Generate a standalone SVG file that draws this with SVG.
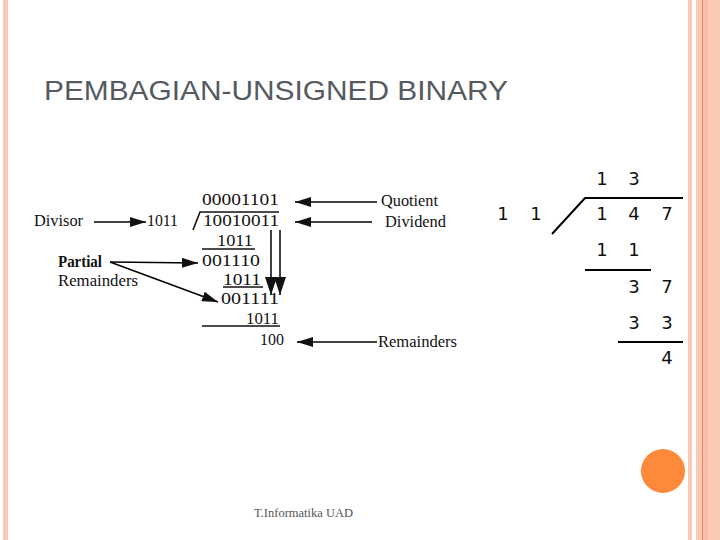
<svg xmlns="http://www.w3.org/2000/svg" width="720" height="540" viewBox="0 0 720 540">
<defs>
<style>
.scan{font-family:"Liberation Serif","Times New Roman",serif;font-size:17.5px;fill:#111}
.lbl{font-family:"Liberation Serif","Times New Roman",serif;font-size:16px;fill:#111}
.num{font-family:"DejaVu Sans",Verdana,sans-serif;font-size:18px;fill:#111;text-anchor:middle}
.ln{stroke:#111;stroke-width:1.6;fill:none}
.ln2{stroke:#000;stroke-width:1.5;fill:none}
</style>
<marker id="ah" viewBox="0 0 16 10" refX="16" refY="5" markerWidth="16" markerHeight="10" markerUnits="userSpaceOnUse" orient="auto">
<path d="M0,0 L16,5 L0,10 Z" fill="#111"/>
</marker>
<marker id="ahv" viewBox="0 0 18 12" refX="18" refY="6" markerWidth="18" markerHeight="12" markerUnits="userSpaceOnUse" orient="auto">
<path d="M0,0 L18,6 L0,12 Z" fill="#111"/>
</marker>
</defs>
<rect width="720" height="540" fill="#fff"/>
<!-- border stripes -->
<rect x="3" y="0" width="5" height="540" fill="#f9c8b6"/>
<rect x="688" y="0" width="4" height="540" fill="#f9c8b6"/>
<rect x="696" y="0" width="24" height="540" fill="#fcc9b5"/>
<rect x="702" y="0" width="6" height="540" fill="#f8bfa6"/>
<rect x="702" y="0" width="1" height="540" fill="#d9875c"/>
<g id="title">
<text x="44" y="100" font-family="'Liberation Sans',Arial,sans-serif" font-size="27" fill="#555a61" textLength="464" lengthAdjust="spacingAndGlyphs">PEMBAGIAN-UNSIGNED BINARY</text>
</g>
<!-- binary division scan -->
<g id="division">
<text class="scan" x="202" y="205" textLength="77" lengthAdjust="spacingAndGlyphs">00001101</text>
<path class="ln" d="M193,230 L200,212 L279,212"/>
<text class="scan" x="203" y="226" textLength="76" lengthAdjust="spacingAndGlyphs">10010011</text>
<text class="scan" x="217" y="246" textLength="36" lengthAdjust="spacingAndGlyphs">1011</text>
<line class="ln" x1="202" y1="249" x2="255" y2="249"/>
<text class="scan" x="202" y="266" textLength="58" lengthAdjust="spacingAndGlyphs">001110</text>
<text class="scan" x="223" y="285" textLength="38" lengthAdjust="spacingAndGlyphs">1011</text>
<line class="ln" x1="223" y1="287" x2="263" y2="287"/>
<text class="scan" x="221" y="304" textLength="58" lengthAdjust="spacingAndGlyphs">001111</text>
<text class="scan" x="246" y="324" textLength="33" lengthAdjust="spacingAndGlyphs">1011</text>
<line class="ln" x1="202" y1="326" x2="280" y2="326"/>
<text class="scan" x="260" y="345" textLength="24" lengthAdjust="spacingAndGlyphs">100</text>
</g>
<g id="divisor">
<text class="lbl" x="34" y="226" textLength="49" lengthAdjust="spacingAndGlyphs">Divisor</text>
<text class="scan" x="147" y="226" textLength="31" lengthAdjust="spacingAndGlyphs">1011</text>
</g>
<g id="partial-remainders">
<text class="lbl" x="58" y="267" font-weight="bold" textLength="44" lengthAdjust="spacingAndGlyphs">Partial</text>
<text class="lbl" x="58" y="286" textLength="80" lengthAdjust="spacingAndGlyphs">Remainders</text>
</g>
<g id="quotient">
<text class="lbl" x="381" y="206" textLength="57" lengthAdjust="spacingAndGlyphs">Quotient</text>
</g>
<g id="dividend">
<text class="lbl" x="385" y="227" textLength="61" lengthAdjust="spacingAndGlyphs">Dividend</text>
</g>
<g id="remainders">
<text class="lbl" x="378" y="347" textLength="79" lengthAdjust="spacingAndGlyphs">Remainders</text>
</g>
<g id="connectors">
<line class="ln2" x1="94" y1="222" x2="146" y2="222" marker-end="url(#ah)"/>
<line class="ln2" x1="110" y1="262" x2="198" y2="263" marker-end="url(#ah)"/>
<line class="ln2" x1="110" y1="262" x2="218" y2="302" marker-end="url(#ah)"/>
<line class="ln2" x1="377" y1="202" x2="295" y2="202" marker-end="url(#ah)"/>
<line class="ln2" x1="372" y1="222" x2="295" y2="222" marker-end="url(#ah)"/>
<line class="ln2" x1="377" y1="342" x2="297" y2="342" marker-end="url(#ah)"/>
<line class="ln2" x1="271" y1="230" x2="271" y2="295" marker-end="url(#ahv)"/>
<line class="ln2" x1="280" y1="230" x2="280" y2="295" marker-end="url(#ahv)"/>
</g>
<!-- decimal division -->
<g id="decimal">
<text class="num" x="602" y="185">1</text>
<text class="num" x="634" y="185">3</text>
<path d="M552,234 L585,198 L683,198" stroke="#000" stroke-width="2" fill="none"/>
<text class="num" x="503" y="220">1</text>
<text class="num" x="536" y="220">1</text>
<text class="num" x="602" y="220">1</text>
<text class="num" x="634" y="220">4</text>
<text class="num" x="667" y="220">7</text>
<text class="num" x="602" y="256">1</text>
<text class="num" x="634" y="256">1</text>
<line x1="585" y1="270" x2="651" y2="270" stroke="#000" stroke-width="2"/>
<text class="num" x="634" y="293">3</text>
<text class="num" x="667" y="293">7</text>
<text class="num" x="634" y="329">3</text>
<text class="num" x="667" y="329">3</text>
<line x1="618" y1="342" x2="683" y2="342" stroke="#000" stroke-width="2"/>
<text class="num" x="667" y="364">4</text>
</g>
<circle cx="663" cy="471" r="22" fill="#fd8a3a"/>
<g id="footer">
<text x="254" y="517" font-family="'Liberation Serif','Times New Roman',serif" font-size="12.5" fill="#555">T.Informatika UAD</text>
</g>
</svg>
